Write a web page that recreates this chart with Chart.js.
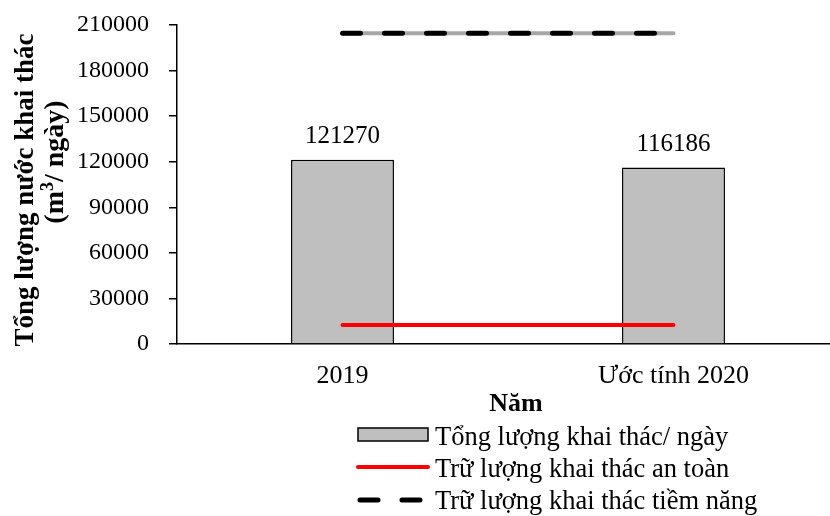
<!DOCTYPE html>
<html>
<head>
<meta charset="utf-8">
<script src="https://cdn.jsdelivr.net/npm/chart.js@4"></script>
<style>
  html, body { margin: 0; padding: 0; background: #fff; overflow: hidden; }
  #wrap { width: 840px; height: 516px; }
</style>
</head>
<body>
<div id="wrap"><canvas id="khai_thac"></canvas></div>
<script>
const nhan_nam = ["2019", "Ước tính 2020"];
const tong_khai_thac = [121270, 116186];
const tru_luong_an_toan = [12500, 12500];
const tru_luong_tiem_nang = [204600, 204600];
const vach_truc_y = [0, 30000, 60000, 90000, 120000, 150000, 180000, 210000];

const FONT = "'Liberation Serif', 'Times New Roman', serif";

// nhãn số trên cột + tiêu đề trục + chú giải vẽ tay
const plugin_ve_them = {
  id: "veThem",
  afterDraw: (chart) => {
    const ctx = chart.ctx;
    ctx.save();
    ctx.fillStyle = "#000";

    // nhãn giá trị trên cột (dataset cột là index 3)
    ctx.font = "25px " + FONT;
    ctx.textAlign = "center";
    ctx.textBaseline = "alphabetic";
    const meta = chart.getDatasetMeta(3);
    meta.data.forEach((bar, i) => {
      ctx.fillText(String(tong_khai_thac[i]), bar.x, bar.y - 17);
    });

    // tiêu đề trục x
    ctx.font = "bold 26px " + FONT;
    ctx.fillText("Năm", 516, 411);

    // tiêu đề trục y (xoay)
    ctx.save();
    ctx.font = "bold 27px " + FONT;
    ctx.translate(33, 190);
    ctx.rotate(-Math.PI / 2);
    ctx.textAlign = "center";
    ctx.fillText("Tổng lượng nước khai thác", 0, 0);
    ctx.restore();

    ctx.save();
    ctx.translate(63, 162);
    ctx.rotate(-Math.PI / 2);
    ctx.font = "bold 28px " + FONT;
    const p1 = "(m", p2 = "3", p3 = "/ ngày)";
    const w1 = ctx.measureText(p1).width;
    const w3 = ctx.measureText(p3).width;
    ctx.font = "bold 18px " + FONT;
    const w2 = ctx.measureText(p2).width;
    let x0 = -(w1 + w2 + w3) / 2;
    ctx.textAlign = "left";
    ctx.font = "bold 28px " + FONT;
    ctx.fillText(p1, x0, 0);
    ctx.font = "bold 18px " + FONT;
    ctx.fillText(p2, x0 + w1, -10);
    ctx.font = "bold 28px " + FONT;
    ctx.fillText(p3, x0 + w1 + w2, 0);
    ctx.restore();

    // chú giải
    const lx = 358, lw = 70, tx = 435;
    ctx.font = "26.5px " + FONT;
    ctx.textAlign = "left";
    ctx.textBaseline = "alphabetic";

    ctx.fillStyle = "#bfbfbf";
    ctx.fillRect(lx, 428, lw, 13);
    ctx.strokeStyle = "#000";
    ctx.lineWidth = 1.5;
    ctx.strokeRect(lx, 428, lw, 13);
    ctx.fillStyle = "#000";
    ctx.fillText("Tổng lượng khai thác/ ngày", tx, 445);

    ctx.strokeStyle = "#ff0000";
    ctx.lineWidth = 4;
    ctx.lineCap = "round";
    ctx.beginPath();
    ctx.moveTo(lx, 467);
    ctx.lineTo(lx + lw, 467);
    ctx.stroke();
    ctx.fillText("Trữ lượng khai thác an toàn", tx, 477);

    ctx.strokeStyle = "#000";
    ctx.lineWidth = 5;
    ctx.setLineDash([18, 24]);
    ctx.beginPath();
    ctx.moveTo(lx + 2, 500);
    ctx.lineTo(lx + lw, 500);
    ctx.stroke();
    ctx.setLineDash([]);
    ctx.fillText("Trữ lượng khai thác tiềm năng", tx, 509);

    ctx.restore();
  },
};

const ctx = document.getElementById("khai_thac").getContext("2d");
const chart_khai_thac = new Chart(ctx, {
  type: "bar",
  data: {
    labels: nhan_nam,
    datasets: [
      {
        type: "line",
        label: "Trữ lượng khai thác tiềm năng",
        data: tru_luong_tiem_nang,
        borderColor: "#000000",
        borderWidth: 5,
        borderDash: [18, 24],
        borderCapStyle: "round",
        pointRadius: 0,
        fill: false,
        order: 0,
      },
      {
        type: "line",
        label: "nen",
        data: tru_luong_tiem_nang,
        borderColor: "#a6a6a6",
        borderWidth: 4,
        borderCapStyle: "round",
        pointRadius: 0,
        fill: false,
        order: 1,
      },
      {
        type: "line",
        label: "Trữ lượng khai thác an toàn",
        data: tru_luong_an_toan,
        borderColor: "#ff0000",
        borderWidth: 4,
        borderCapStyle: "round",
        pointRadius: 0,
        fill: false,
        order: 2,
      },
      {
        label: "Tổng lượng khai thác/ ngày",
        data: tong_khai_thac,
        backgroundColor: "#bfbfbf",
        borderColor: "#000000",
        borderWidth: 1.5,
        barPercentage: 0.311,
        categoryPercentage: 1,
        order: 3,
      },
    ],
  },
  options: {
    responsive: true,
    maintainAspectRatio: false,
    animation: false,
    layout: { padding: { top: 25, right: 1, left: 0, bottom: 0 } },
    plugins: {
      legend: { display: false },
      tooltip: { enabled: false },
    },
    scales: {
      x: {
        grid: { display: false },
        border: { display: true, color: "#000", width: 1.5 },
        ticks: {
          color: "#000",
          font: { family: FONT, size: 26 },
          padding: 9,
        },
        afterFit: (scale) => {
          scale.height = 172;
          scale.paddingLeft = 0;
          scale.paddingRight = 0;
        },
      },
      y: {
        min: 0,
        max: 210000,
        afterBuildTicks: (scale) => {
          scale.ticks = vach_truc_y.map((v) => ({ value: v }));
        },
        grid: {
          drawOnChartArea: false,
          tickLength: 8,
          color: "#000",
          lineWidth: 1.5,
        },
        border: { display: true, color: "#000", width: 1.5 },
        ticks: {
          color: "#000",
          font: { family: FONT, size: 24 },
          padding: 20,
          callback: (value) => String(value),
        },
        afterFit: (scale) => {
          scale.width = 177;
          scale.paddingTop = 0;
          scale.paddingBottom = 0;
        },
      },
    },
  },
  plugins: [plugin_ve_them],
});
</script>
</body>
</html>
